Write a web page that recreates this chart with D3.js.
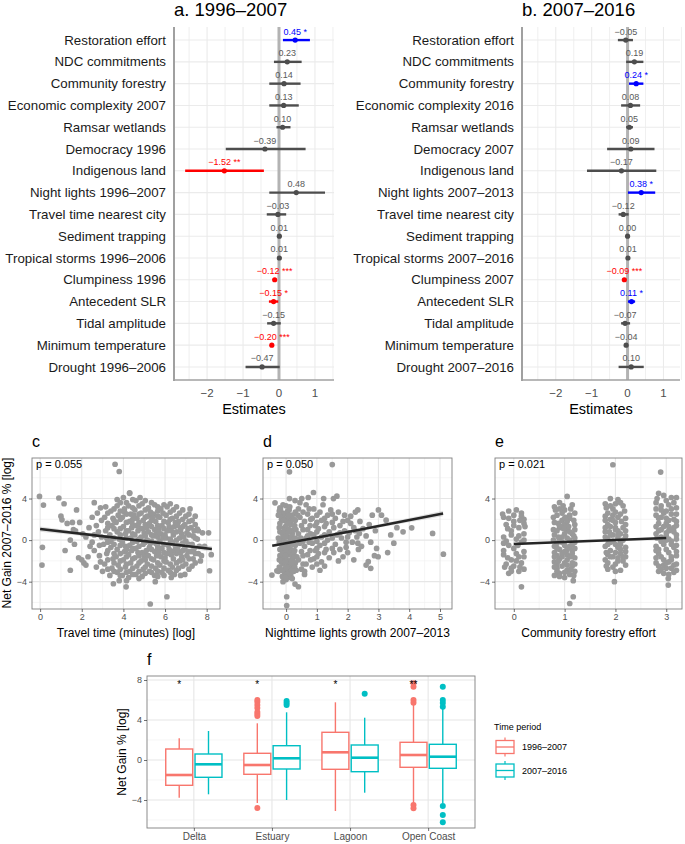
<!DOCTYPE html>
<html>
<head>
<meta charset="utf-8">
<script src="https://cdn.jsdelivr.net/npm/d3@7"></script>
<style>
body { margin: 0; background: #fff; }
svg { display: block; font-family: "Liberation Sans", Arial, sans-serif; }
</style>
</head>
<body>
<svg id="fig" width="685" height="844"></svg>
<script>
// ---- panel a / b : model estimates ----
var predictorsA = ["Restoration effort", "NDC commitments", "Community forestry", "Economic complexity 2007",
  "Ramsar wetlands", "Democracy 1996", "Indigenous land", "Night lights 1996\u20132007",
  "Travel time nearest city", "Sediment trapping", "Tropical storms 1996\u20132006", "Clumpiness 1996",
  "Antecedent SLR", "Tidal amplitude", "Minimum temperature", "Drought 1996\u20132006"];
var estA  = [0.45, 0.23, 0.14, 0.13, 0.10, -0.39, -1.52, 0.48, -0.03, 0.01, 0.01, -0.12, -0.15, -0.15, -0.20, -0.47];
var lowA  = [0.11, -0.14, -0.27, -0.27, -0.07, -1.48, -2.61, -0.27, -0.34, -0.02, -0.02, -0.16, -0.28, -0.33, -0.23, -0.93];
var highA = [0.86, 0.63, 0.60, 0.55, 0.32, 0.74, -0.42, 1.28, 0.20, 0.04, 0.04, -0.08, -0.02, 0.05, -0.17, 0.02];
var starsA = ["*", "", "", "", "", "", "**", "", "", "", "", "***", "*", "", "***", ""];

var predictorsB = ["Restoration effort", "NDC commitments", "Community forestry", "Economic complexity 2016",
  "Ramsar wetlands", "Democracy 2007", "Indigenous land", "Night lights 2007\u20132013",
  "Travel time nearest city", "Sediment trapping", "Tropical storms 2007\u20132016", "Clumpiness 2007",
  "Antecedent SLR", "Tidal amplitude", "Minimum temperature", "Drought 2007\u20132016"];
var estB  = [-0.05, 0.19, 0.24, 0.08, 0.05, 0.09, -0.17, 0.38, -0.12, 0.00, 0.01, -0.09, 0.11, -0.07, -0.04, 0.10];
var lowB  = [-0.27, -0.04, 0.04, -0.18, -0.04, -0.57, -1.13, 0.01, -0.25, -0.02, -0.02, -0.11, 0.01, -0.18, -0.07, -0.25];
var highB = [0.15, 0.44, 0.44, 0.35, 0.15, 0.75, 0.80, 0.77, 0.03, 0.02, 0.04, -0.07, 0.21, 0.07, -0.01, 0.45];
var starsB = ["", "", "*", "", "", "", "", "*", "", "", "", "***", "*", "", "", ""];

var estimateTicks = [-2, -1, 0, 1];
var estimateMinor = [-2.5, -1.5, -0.5, 0.5, 1.5];

// ---- panel c / d / e : scatter (x, net gain) ----
var travelTime = [
  [-0.03,4.2],[0.16,3.37],[0.11,-0.7],[0.09,-2.4],[3.6,7.3],[3.8,6.6],[5.29,-6.15],[6.09,-5.45],[4.13,-4.5],
  [3.52,-4.2],[5.53,-4.0],[8.09,0.7],[8.22,-1.4],[8.14,-2.95],[4.3,4.55],[7.55,1.05],[7.2,3.0],[6.3,-3.6],[7.9,-0.6],
  [0.9,4.05],[1.15,3.5],[1.0,2.3],[1.05,1.95],[1.45,0.0],[1.2,-1.0],[1.45,-2.9],[1.75,2.9],[1.6,1.0],[1.65,-0.4],
  [1.3,1.6],[1.55,1.7],[1.9,1.7],[2.0,-1.9],[2.1,-2.2],[2.3,-1.6],[1.85,-1.7],[2.2,0.3],[2.35,1.2],[2.5,2.2],
  [2.6,3.6],[2.4,-0.6],[2.6,-1.0],[2.7,-2.6],[2.9,-2.1],[2.8,0.8],[2.95,1.9],[2.2,-2.4],[1.7,0.9],[2.05,0.6],
  [2.5,-0.2],[2.75,2.6],[2.9,3.1],[3.0,-3.0],[2.85,-1.5],[2.7,1.4],[2.85,-0.5],[2.95,0.3],[2.6,0.5],
  [3.1,2.2],[3.15,0.9],[3.05,-0.4],[3.2,-1.3],[3.1,-2.3],[3.25,1.6],[3.2,0.2],[3.15,3.2],
  [3.25,2.6],[3.25,1.2],[3.25,-0.2],[3.25,-1.0],[3.25,-1.9],[3.25,-2.8],
  [3.4,2.8],[3.45,1.4],[3.35,0.5],[3.4,-0.7],[3.5,-1.8],[3.45,-2.7],[3.35,-3.4],[3.5,2.1],[3.4,-0.1],
  [3.55,3.0],[3.55,1.9],[3.55,1.1],[3.55,0.2],[3.55,-0.4],[3.55,-1.3],[3.55,-2.2],[3.55,-3.0],
  [3.7,3.3],[3.75,2.4],[3.65,1.7],[3.7,0.8],[3.8,0.1],[3.7,-0.9],[3.65,-1.6],[3.75,-2.4],[3.7,-3.1],[3.8,-3.9],[3.7,3.9],
  [3.85,3.6],[3.85,2.8],[3.85,2.0],[3.85,1.1],[3.85,0.5],[3.85,-0.5],[3.85,-1.3],[3.85,-2.0],[3.85,-2.8],[3.85,-3.4],
  [4.0,4.1],[4.05,3.0],[3.95,2.2],[4.0,1.3],[4.1,0.6],[3.95,-0.2],[4.05,-1.1],[4.0,-1.9],[4.1,-2.6],[3.95,-3.4],[4.05,2.7],[4.1,-0.6],
  [4.15,3.6],[4.15,2.5],[4.15,1.7],[4.15,0.9],[4.15,0.2],[4.15,-0.9],[4.15,-1.6],[4.15,-2.3],[4.15,-3.1],[4.15,-3.9],
  [4.3,4.5],[4.25,3.3],[4.35,2.5],[4.3,1.8],[4.25,0.9],[4.35,0.2],[4.3,-0.5],[4.25,-1.4],[4.35,-2.2],[4.3,-3.0],[4.25,-3.6],[4.4,1.2],[4.4,-1.0],
  [4.45,3.9],[4.45,3.1],[4.45,2.0],[4.45,1.5],[4.45,0.6],[4.45,-0.2],[4.45,-0.8],[4.45,-1.8],[4.45,-2.7],[4.45,-3.3],
  [4.6,3.8],[4.55,2.9],[4.65,2.1],[4.6,1.4],[4.55,0.5],[4.65,-0.1],[4.6,-0.8],[4.55,-1.7],[4.65,-2.5],[4.6,-3.3],[4.7,0.9],[4.7,-1.2],[4.5,2.4],
  [4.75,3.3],[4.75,2.5],[4.75,1.7],[4.75,1.2],[4.75,0.1],[4.75,-0.6],[4.75,-1.5],[4.75,-2.2],[4.75,-3.0],[4.75,-3.7],
  [4.9,3.5],[4.85,2.6],[4.95,1.9],[4.9,1.1],[4.85,0.3],[4.95,-0.4],[4.9,-1.2],[4.85,-2.0],[4.95,-2.8],[4.9,-3.5],[5.0,0.7],[5.0,-1.6],[4.8,4.1],
  [5.05,3.8],[5.05,2.9],[5.05,2.2],[5.05,1.5],[5.05,0.4],[5.05,-0.2],[5.05,-1.3],[5.05,-1.9],[5.05,-2.6],[5.05,-3.2],
  [5.2,3.1],[5.15,2.3],[5.25,1.6],[5.2,0.8],[5.15,0.0],[5.25,-0.7],[5.2,-1.5],[5.15,-2.3],[5.25,-3.0],[5.3,2.7],[5.3,-0.3],[5.1,1.2],[5.1,-1.0],
  [5.35,3.6],[5.35,2.4],[5.35,1.9],[5.35,1.3],[5.35,0.5],[5.35,-0.1],[5.35,-0.9],[5.35,-1.8],[5.35,-2.5],[5.35,-3.1],
  [5.5,3.4],[5.45,2.5],[5.55,1.8],[5.5,1.0],[5.45,0.4],[5.55,-0.3],[5.5,-1.1],[5.45,-1.9],[5.55,-2.7],[5.5,-3.4],[5.6,0.7],[5.6,-1.5],[5.4,2.1],
  [5.65,3.2],[5.65,2.8],[5.65,2.3],[5.65,1.4],[5.65,0.3],[5.65,-0.6],[5.65,-0.9],[5.65,-2.2],[5.65,-3.0],[5.65,-3.5],
  [5.8,3.0],[5.75,2.2],[5.85,1.4],[5.8,0.6],[5.75,-0.1],[5.85,-0.8],[5.8,-1.6],[5.75,-2.4],[5.85,-3.1],[5.9,2.6],[5.9,0.2],[5.7,-1.2],[5.7,1.0],
  [5.95,3.4],[5.95,1.8],[5.95,1.1],[5.95,0.4],[5.95,-0.4],[5.95,-1.2],[5.95,-2.0],[5.95,-2.7],[5.95,-3.4],
  [6.1,3.2],[6.05,2.4],[6.15,1.7],[6.1,0.9],[6.05,0.2],[6.15,-0.5],[6.1,-1.3],[6.05,-2.1],[6.15,-2.9],[6.2,1.3],[6.2,-0.9],[6.0,-1.7],[6.0,0.5],
  [6.25,2.7],[6.25,2.0],[6.25,1.1],[6.25,0.1],[6.25,-0.3],[6.25,-1.1],[6.25,-2.3],[6.25,-3.1],[6.25,3.5],
  [6.4,2.9],[6.35,2.1],[6.45,1.3],[6.4,0.5],[6.35,-0.2],[6.45,-1.0],[6.4,-1.8],[6.35,-2.6],[6.45,-3.3],[6.5,1.7],[6.5,-0.6],[6.3,0.9],[6.3,-1.4],
  [6.55,3.2],[6.55,2.3],[6.55,0.8],[6.55,0.0],[6.55,-1.3],[6.55,-2.2],[6.55,-2.9],
  [6.7,2.6],[6.65,1.8],[6.75,1.0],[6.7,0.2],[6.65,-0.5],[6.75,-1.2],[6.7,-2.0],[6.65,-2.7],[6.75,-3.4],[6.8,0.6],[6.8,-1.6],[6.6,1.4],[6.6,-0.9],
  [6.85,2.0],[6.85,1.3],[6.85,-0.3],[6.85,-1.0],[6.85,-1.9],[6.85,-2.5],[6.85,2.9],
  [7.0,2.3],[6.95,1.5],[7.05,0.7],[7.0,-0.1],[6.95,-0.8],[7.05,-1.5],[7.0,-2.3],[6.95,-3.3],[7.1,1.1],[7.1,-1.1],[6.9,0.3],
  [7.15,1.8],[7.15,0.5],[7.15,-0.4],[7.15,-1.8],[7.15,-2.8],[7.15,2.5],
  [7.3,1.9],[7.25,1.2],[7.35,0.4],[7.3,-0.4],[7.25,-1.1],[7.35,-1.8],[7.3,-2.5],[7.4,0.9],[7.4,-0.8],
  [7.45,1.5],[7.45,0.2],[7.45,-1.3],[7.45,-2.2],[7.45,2.3],
  [7.6,0.9],[7.55,0.1],[7.65,-0.6],[7.6,-1.3],[7.7,-2.0],[7.8,0.7],[7.75,-1.5]
];
var nightLights = [
  [-0.46,-3.37],[-0.3,-2.95],[-0.36,3.59],[0.11,6.57],[1.5,7.27],[0.02,-6.3],[0.02,-5.45],[0.29,-4.23],[0.4,-4.49],
  [5.11,-1.35],[4.76,0.64],[4.08,1.18],[3.25,1.92],[3.1,2.4],[2.94,-0.8],[2.99,-1.6],[2.87,-1.5],[2.67,-2.08],
  [2.75,-2.72],[2.6,-2.4],[2.38,0.64],[2.33,-0.3],[2.8,2.4],[2.33,2.9],[1.65,4.23],[1.54,4.0],[1.22,4.0],[0.89,4.58],
  [0.72,4.1],[0.51,4.0],[0.29,3.8],[0.11,4.0],
  [-0.2,3.1],[-0.1,2.6],[0.0,3.3],[0.1,2.9],[0.2,2.4],[-0.15,2.0],[0.05,1.8],[0.15,1.5],[-0.05,1.2],[0.25,1.0],
  [-0.2,0.8],[0.0,0.6],[0.1,0.3],[-0.1,0.1],[0.2,-0.1],[-0.15,-0.4],[0.05,-0.6],[0.15,-0.9],[-0.05,-1.1],[0.25,-1.3],
  [-0.2,-1.5],[0.0,-1.8],[0.1,-2.0],[-0.1,-2.3],[0.2,-2.5],[-0.05,-2.8],[0.05,-3.1],[0.15,-3.4],[0.0,-3.8],[-0.1,-4.0],[0.1,-3.6],
  [-0.1,3.4],[0.05,2.8],[0.15,2.2],[-0.2,1.6],[0.0,1.4],[0.2,0.6],[-0.1,0.4],[0.1,-0.3],[-0.2,-0.9],[0.05,-1.4],
  [0.2,-1.9],[-0.15,-2.1],[0.1,-2.7],[-0.05,-3.3],[0.25,-3.0],[0.3,2.7],[0.3,1.9],[0.3,-0.5],[0.3,-2.2],[-0.25,-3.0],
  [-0.25,0.2],[-0.25,2.4],[0.0,2.0],[0.1,1.0],[0.0,-0.2],[0.1,-1.2],[-0.1,-1.7],[0.2,-3.7],[-0.05,0.9],[0.15,0.0],
  [-0.22,2.8],[-0.12,2.2],[-0.02,2.5],[0.08,2.4],[0.18,1.9],[0.28,1.4],[-0.22,1.2],[-0.12,0.7],[-0.02,0.3],[0.08,0.8],
  [0.18,0.3],[0.28,0.2],[-0.22,-0.2],[-0.12,-0.7],[-0.02,-0.9],[0.08,-0.6],[0.18,-1.5],[0.28,-1.0],[-0.22,-1.9],[-0.12,-1.3],
  [-0.02,-1.5],[0.08,-2.3],[0.18,-2.2],[0.28,-1.6],[-0.22,-2.6],[-0.12,-2.9],[-0.02,-2.1],[0.08,-3.2],[0.18,-2.9],[0.28,-2.6],
  [-0.12,-3.5],[-0.02,-3.6],[0.08,1.6],[-0.08,1.9],[0.12,3.2],[-0.18,3.0],[0.0,-2.6],[0.22,-0.4],[-0.05,-0.4],[0.25,2.0],
  [0.32,1.0],[0.35,-1.6],[0.36,0.1],[0.33,-2.9],[0.38,2.4],
  [0.4,3.0],[0.45,2.2],[0.5,1.4],[0.4,0.6],[0.45,-0.3],[0.5,-1.1],[0.4,-1.9],[0.5,-2.8],[0.45,3.6],
  [0.55,2.7],[0.55,1.0],[0.55,-0.1],[0.55,-1.5],[0.55,-2.3],[0.6,-3.3],[0.48,0.2],[0.7,0.4],
  [0.65,3.4],[0.7,2.5],[0.6,1.8],[0.7,1.0],[0.65,0.2],[0.6,-0.6],[0.7,-1.4],[0.65,-2.3],[0.6,-3.0],
  [0.75,3.0],[0.78,1.4],[0.8,0.6],[0.75,-0.2],[0.78,-1.0],[0.8,-1.9],[0.8,2.0],
  [0.9,3.0],[0.85,2.1],[0.95,1.4],[0.9,0.5],[0.85,-0.3],[0.95,-1.0],[0.9,-1.8],[0.85,-2.6],
  [1.0,2.4],[1.0,1.7],[1.0,0.8],[1.0,-0.1],[1.0,-0.8],[1.0,-1.6],[1.0,-2.3],
  [1.1,2.7],[1.15,1.9],[1.05,1.1],[1.15,0.3],[1.1,-0.5],[1.05,-1.3],[1.15,-2.1],[1.1,-2.9],[1.2,3.4],
  [1.25,2.1],[1.25,1.3],[1.25,0.5],[1.25,-0.3],[1.25,-1.2],[1.25,-2.5],
  [1.35,2.4],[1.3,1.6],[1.4,0.8],[1.35,0.0],[1.3,-0.9],[1.4,-1.7],[1.45,2.9],
  [1.5,1.7],[1.5,0.2],[1.5,-0.8],[1.5,2.5],
  [1.6,2.1],[1.55,1.2],[1.65,0.5],[1.6,-0.4],[1.55,-1.2],[1.7,2.7],[1.7,-2.0],
  [1.75,1.4],[1.75,0.7],[1.75,-0.9],
  [1.85,1.8],[1.9,0.9],[1.8,0.2],[1.95,-0.7],[1.85,-1.6],[1.9,2.4],
  [2.0,1.9],[2.0,0.3],[1.95,-0.2],[2.25,0.9],[2.35,-0.9],
  [2.1,1.6],[2.05,0.7],[2.15,-0.2],[2.1,2.3],[2.2,1.2],[2.0,-1.2],
  [2.3,0.3],[2.4,1.8],[2.45,-0.6],[2.25,2.7],[2.5,1.1],[2.6,0.4],[2.7,1.5],[2.75,-0.2],[2.9,0.9],[3.0,2.9],
  [3.4,0.5],[3.6,1.2],[3.5,-0.3],[3.8,0.8],[3.3,-1.2],[2.2,-1.9]
];
var forestryEffort = [
  [-0.2,2.2],[-0.1,2.8],[0.05,2.9],[0.15,2.6],[0.2,2.0],[-0.15,1.5],[0.0,1.8],[0.1,1.2],[-0.05,0.9],[0.2,0.6],
  [-0.2,0.3],[0.05,0.1],[0.15,-0.2],[-0.1,-0.5],[0.0,-0.8],[0.2,-1.1],[-0.2,-1.4],[0.1,-1.6],[-0.05,-1.9],[0.15,-2.2],
  [0.0,-2.5],[-0.15,-2.3],[0.2,-2.8],[-0.1,-3.2],[0.1,-3.0],[-0.2,-1.0],[0.2,1.6],[-0.1,2.1],[0.1,0.4],[-0.15,-0.1],
  [0.05,-1.3],[0.15,2.3],[-0.05,-2.7],[0.15,-4.5],
  [-0.22,2.5],[0.0,2.4],[0.12,1.9],[-0.12,1.1],[0.22,1.3],[-0.05,0.5],[0.2,0.0],[-0.2,-0.3],[0.08,-0.5],[-0.12,-1.7],
  [0.2,-1.6],[0.05,-2.0],[-0.18,-2.6],[0.12,-2.6],[-0.05,-3.0],[0.0,1.4],
  [0.8,3.2],[0.9,3.6],[1.05,4.2],[1.15,3.4],[1.2,2.6],[0.85,2.4],[1.0,2.9],[1.1,2.1],[0.8,1.7],[0.95,1.9],
  [1.2,1.5],[0.9,1.2],[1.05,1.0],[1.15,0.6],[0.8,0.5],[0.95,0.3],[1.1,0.0],[1.2,-0.2],[0.85,-0.3],[1.0,-0.5],
  [0.9,-0.9],[1.15,-1.0],[0.8,-1.2],[1.05,-1.4],[1.2,-1.7],[0.9,-1.8],[0.8,-2.1],[1.0,-2.2],[1.15,-2.5],[0.85,-2.7],
  [1.05,-2.9],[0.9,-3.2],[0.8,-3.4],[1.1,-3.3],[1.0,-3.6],[1.2,-3.0],[1.17,-3.9],[1.17,-5.45],[1.1,-6.1],
  [0.85,0.9],[1.0,1.5],[1.1,2.4],[0.95,-1.6],[1.1,-0.6],[0.85,-2.3],[1.0,0.6],[1.2,1.0],[0.8,-0.6],[1.05,-1.9],
  [0.95,2.6],[1.15,-2.2],[0.9,0.0],[1.2,0.2],[0.9,3.0],[0.85,-1.5],[1.05,1.8],[1.15,-1.3],
  [0.82,2.9],[0.97,3.3],[1.12,3.0],[0.78,2.2],[1.02,2.2],[1.18,1.9],[0.88,1.6],[1.08,1.3],[0.78,1.0],[0.98,1.1],
  [1.18,0.4],[0.88,0.3],[1.05,0.2],[0.78,0.0],[0.95,-0.2],[1.15,-0.4],[0.85,-0.8],[1.05,-0.9],[1.2,-0.8],[0.8,-1.6],
  [0.95,-1.3],[1.12,-1.6],[0.88,-2.0],[1.05,-2.4],[1.2,-2.3],[0.8,-2.6],[0.95,-2.5],[1.12,-2.8],[0.85,-3.0],[1.0,-3.1],
  [1.18,-3.4],[0.9,-3.5],[1.0,2.1],[0.9,1.4],[1.1,0.8],[1.0,-1.1],
  [1.95,7.25],[1.9,4.0],[2.05,3.9],[1.8,3.5],[2.15,3.3],[1.95,3.0],[1.85,2.6],[2.1,2.5],[2.2,2.1],[1.8,1.9],
  [2.0,1.7],[1.9,1.3],[2.15,1.2],[2.05,0.9],[1.8,0.8],[1.95,0.5],[2.2,0.4],[1.85,0.1],[2.1,-0.1],[2.0,-0.4],
  [1.8,-0.6],[2.2,-0.7],[1.9,-1.0],[2.1,-1.3],[1.95,-1.6],[1.8,-1.9],[2.15,-2.0],[2.0,-2.3],[1.85,-2.8],[2.1,-2.9],
  [1.98,-4.0],[2.05,2.2],[1.9,-0.2],[2.2,1.5],[1.85,-1.4],[2.05,0.2],[1.95,2.4],[2.1,-0.9],[1.8,1.2],[2.0,3.5],
  [2.2,-1.6],[1.9,2.0],[2.05,-1.7],
  [1.82,3.1],[2.1,3.6],[1.9,3.3],[2.0,2.7],[2.18,2.8],[1.8,2.3],[1.95,1.9],[2.12,1.8],[1.85,1.5],[2.0,1.2],
  [2.2,0.9],[1.88,0.8],[2.05,0.5],[1.8,0.3],[2.15,0.0],[1.95,-0.1],[1.85,-0.4],[2.05,-0.7],[2.2,-1.1],[1.82,-1.2],
  [2.0,-1.2],[1.9,-1.6],[2.15,-1.6],[1.85,-2.2],[2.05,-2.0],[2.2,-2.4],[1.95,-2.6],[1.82,-2.5],[2.0,-3.0],[2.1,0.6],
  [1.9,0.5],[2.0,1.0],[2.1,-0.4],
  [2.89,6.55],[2.85,4.5],[2.95,4.3],[3.1,4.1],[3.2,4.1],[2.8,3.6],[3.05,3.4],[3.2,3.1],[2.9,2.9],[2.8,2.4],
  [3.1,2.5],[3.0,2.1],[3.2,1.8],[2.85,1.6],[3.05,1.3],[2.9,1.0],[3.15,0.8],[2.8,0.6],[3.0,0.4],[3.2,0.1],
  [2.9,-0.1],[3.1,-0.4],[2.8,-0.6],[3.0,-0.9],[3.2,-1.1],[2.85,-1.3],[3.1,-1.6],[2.95,-1.9],[2.8,-2.2],[3.15,-2.4],
  [3.0,-2.7],[2.85,-3.0],[3.2,-2.9],[3.05,-3.3],[3.04,-3.7],[3.04,-4.33],[2.95,2.6],[3.15,2.0],[2.9,0.3],[3.1,-1.9],
  [3.0,1.6],[2.85,-0.9],[3.2,-0.5],[3.05,0.9],[2.8,-1.7],[3.1,3.0],[2.95,-2.4],[3.15,1.2],
  [2.82,4.0],[3.0,3.8],[3.15,3.6],[2.9,3.3],[2.8,3.0],[3.0,2.8],[3.2,2.5],[2.85,2.1],[3.05,1.9],[2.8,1.3],
  [3.2,1.4],[2.95,1.3],[3.1,1.0],[2.85,0.9],[3.0,0.7],[3.2,0.5],[2.82,0.2],[3.05,0.1],[2.95,-0.4],[3.15,-0.7],
  [2.8,-1.0],[3.05,-1.2],[3.2,-1.5],[2.9,-1.6],[3.05,-2.1],[2.85,-2.5],[3.2,-2.3],[3.0,-2.2],[2.9,-2.8],[3.1,-2.7],
  [2.95,-3.2],[3.15,-3.1],[3.0,0.0],[2.9,2.2],[3.1,-0.1]
];
// fitted lines and their confidence band: [x, fit, low, high]
var fitC = [[0, 1.06, 0.80, 1.32], [4.1, 0.12, 0.02, 0.22], [8.25, -0.86, -1.12, -0.60]];
var fitD = [[-0.45, -0.55, -0.68, -0.42], [2.3, 0.95, 0.82, 1.08], [5.1, 2.56, 2.30, 2.82]];
var fitE = [[0, -0.38, -0.50, -0.26], [1.5, -0.09, -0.15, -0.03], [3, 0.20, 0.08, 0.32]];
var pValues = ["p = 0.055", "p = 0.050", "p = 0.021"];

// ---- panel f : boxplots ----
var coastTypes = ["Delta", "Estuary", "Lagoon", "Open Coast"];
var periods = ["1996\u20132007", "2007\u20132016"];
var periodColors = ["#F8766D", "#00BFC4"];
// [lower whisker, Q1, median, Q3, upper whisker]
var boxes1996 = [[-3.77, -2.53, -1.50, 1.10, 2.17], [-4.30, -1.43, -0.50, 0.67, 3.67], [-5.10, -0.93, 0.77, 2.77, 5.77], [-4.33, -0.73, 0.50, 1.77, 5.50]];
var boxes2007 = [[-3.43, -1.73, -0.43, 0.60, 2.90], [-4.00, -0.90, 0.17, 1.43, 4.77], [-3.27, -1.17, 0.23, 1.50, 4.23], [-4.33, -0.83, 0.33, 1.57, 5.17]];
var outliers1996 = [[], [6.0, 5.8, 5.5, 5.2, 4.8, 4.6, 4.4, -4.8], [], [7.67, 7.33, 6.0, 5.73, -4.5, -4.83]];
var outliers2007 = [[], [5.9, 5.7, 5.5], [6.63], [7.33, 6.0, 5.7, 5.33, -4.6, -5.5, -6.23]];
var boxStars = ["*", "*", "*", "**"];

// ---------------------------------------------------------------
var svg = d3.select("#fig");
var sigColor = function(est, star) {
  if (!star) return "#4d4d4d";
  return est > 0 ? "#0000ff" : "#ff0000";
};
var fmt = d3.format(".2f");

function drawForest(cfg) {
  var g = svg.append("g");
  var x = d3.scaleLinear().domain(cfg.domain).range([cfg.left, cfg.right]);
  var y = d3.scalePoint().domain(cfg.labels).range([cfg.top, cfg.bottom]).padding(0.6);

  // grid
  g.selectAll(".hg").data(cfg.labels).enter().append("line")
    .attr("x1", cfg.left).attr("x2", cfg.right)
    .attr("y1", function(d) { return y(d); }).attr("y2", function(d) { return y(d); })
    .attr("stroke", "#ebebeb").attr("stroke-width", 1.1);
  g.selectAll(".vm").data(estimateMinor).enter().append("line")
    .attr("x1", x).attr("x2", x).attr("y1", cfg.top).attr("y2", cfg.bottom)
    .attr("stroke", "#ebebeb").attr("stroke-width", 0.8);
  g.selectAll(".vg").data(estimateTicks).enter().append("line")
    .attr("x1", x).attr("x2", x).attr("y1", cfg.top).attr("y2", cfg.bottom)
    .attr("stroke", "#ebebeb").attr("stroke-width", 1.1);

  // zero line
  g.append("line").attr("x1", x(0)).attr("x2", x(0)).attr("y1", cfg.top).attr("y2", cfg.bottom)
    .attr("stroke", "#b3b3b3").attr("stroke-width", 3);

  // axis lines
  g.append("line").attr("x1", cfg.left).attr("x2", cfg.left).attr("y1", cfg.top).attr("y2", cfg.bottom + 1)
    .attr("stroke", "#a0a0a0").attr("stroke-width", 2);
  g.append("line").attr("x1", cfg.left).attr("x2", cfg.right).attr("y1", cfg.bottom).attr("y2", cfg.bottom)
    .attr("stroke", "#a0a0a0").attr("stroke-width", 1.5);

  var rows = cfg.labels.map(function(l, i) {
    return {label: l, est: cfg.est[i], lo: cfg.lo[i], hi: cfg.hi[i], star: cfg.stars[i]};
  });
  var r = g.selectAll(".row").data(rows).enter().append("g");
  r.append("line")
    .attr("x1", function(d) { return x(d.lo); }).attr("x2", function(d) { return x(d.hi); })
    .attr("y1", function(d) { return y(d.label); }).attr("y2", function(d) { return y(d.label); })
    .attr("stroke", function(d) { return sigColor(d.est, d.star); }).attr("stroke-width", 2.4);
  r.append("circle")
    .attr("cx", function(d) { return x(d.est); }).attr("cy", function(d) { return y(d.label); })
    .attr("r", 2.6).attr("fill", function(d) { return sigColor(d.est, d.star); });
  r.append("text")
    .attr("x", function(d) { return x(d.est); }).attr("y", function(d) { return y(d.label) - 5.5; })
    .attr("text-anchor", "middle").attr("font-size", "9px")
    .attr("fill", function(d) { return d.star ? sigColor(d.est, d.star) : "#595959"; })
    .text(function(d) { return fmt(d.est) + (d.star ? " " + d.star : ""); });

  // y labels
  g.selectAll(".yl").data(cfg.labels).enter().append("text")
    .attr("x", cfg.left - 8).attr("y", function(d) { return y(d) + 4.6; })
    .attr("text-anchor", "end").attr("font-size", "13.3px").attr("fill", "#1a1a1a")
    .text(function(d) { return d; });

  // x tick labels
  g.selectAll(".xl").data(estimateTicks).enter().append("text")
    .attr("x", x).attr("y", cfg.bottom + 17)
    .attr("text-anchor", "middle").attr("font-size", "11.5px").attr("fill", "#4d4d4d")
    .text(function(d) { return d3.format("d")(d); });
  g.append("text").attr("x", (cfg.left + cfg.right) / 2).attr("y", cfg.bottom + 34)
    .attr("text-anchor", "middle").attr("font-size", "14.5px").attr("fill", "#000")
    .text("Estimates");

  g.append("text").attr("x", cfg.left).attr("y", 16)
    .attr("font-size", "18.5px").attr("fill", "#000").text(cfg.title);
}

drawForest({labels: predictorsA, est: estA, lo: lowA, hi: highA, stars: starsA,
  domain: [-2.92, 1.53], left: 174, right: 334, top: 27, bottom: 380, title: "a. 1996\u20132007"});
drawForest({labels: predictorsB, est: estB, lo: lowB, hi: highB, stars: starsB,
  domain: [-2.94, 1.46], left: 522, right: 680, top: 27, bottom: 380, title: "b. 2007\u20132016"});

// ---- scatter panels ----
var gainTicks = [-4, 0, 4];
var gainMinor = [-6, -2, 2, 6];

function drawScatter(cfg) {
  var g = svg.append("g");
  var x = d3.scaleLinear().domain(cfg.xDomain).range([cfg.left, cfg.right]);
  var y = d3.scaleLinear().domain([-6.63, 7.9]).range([cfg.bottom, cfg.top]);

  g.append("rect").attr("x", cfg.left).attr("y", cfg.top)
    .attr("width", cfg.right - cfg.left).attr("height", cfg.bottom - cfg.top).attr("fill", "#fff");
  g.selectAll(".ym").data(gainMinor).enter().append("line")
    .attr("x1", cfg.left).attr("x2", cfg.right).attr("y1", y).attr("y2", y)
    .attr("stroke", "#f0f0f0").attr("stroke-width", 0.6);
  g.selectAll(".xm").data(cfg.xMinor).enter().append("line")
    .attr("x1", x).attr("x2", x).attr("y1", cfg.top).attr("y2", cfg.bottom)
    .attr("stroke", "#f0f0f0").attr("stroke-width", 0.6);
  g.selectAll(".yg").data(gainTicks).enter().append("line")
    .attr("x1", cfg.left).attr("x2", cfg.right).attr("y1", y).attr("y2", y)
    .attr("stroke", "#e6e6e6").attr("stroke-width", 1.1);
  g.selectAll(".xg").data(cfg.xTicks).enter().append("line")
    .attr("x1", x).attr("x2", x).attr("y1", cfg.top).attr("y2", cfg.bottom)
    .attr("stroke", "#e6e6e6").attr("stroke-width", 1.1);

  g.selectAll(".pt").data(cfg.points).enter().append("circle")
    .attr("cx", function(d) { return x(d[0]); }).attr("cy", function(d) { return y(d[1]); })
    .attr("r", 2.85).attr("fill", "#999999");

  var band = d3.area().x(function(d) { return x(d[0]); })
    .y0(function(d) { return y(d[2]); }).y1(function(d) { return y(d[3]); });
  g.append("path").attr("d", band(cfg.fit)).attr("fill", "#bdbdbd").attr("opacity", 0.45);
  var line = d3.line().x(function(d) { return x(d[0]); }).y(function(d) { return y(d[1]); });
  g.append("path").attr("d", line(cfg.fit)).attr("fill", "none")
    .attr("stroke", "#262626").attr("stroke-width", 2.6);

  g.append("rect").attr("x", cfg.left).attr("y", cfg.top)
    .attr("width", cfg.right - cfg.left).attr("height", cfg.bottom - cfg.top)
    .attr("fill", "none").attr("stroke", "#7f7f7f").attr("stroke-width", 0.9);

  // axes
  var xa = g.append("g").attr("transform", "translate(0," + cfg.bottom + ")")
    .call(d3.axisBottom(x).tickValues(cfg.xTicks).tickSize(3).tickPadding(2).tickFormat(d3.format("d")));
  var ya = g.append("g").attr("transform", "translate(" + cfg.left + ",0)")
    .call(d3.axisLeft(y).tickValues(gainTicks).tickSize(3).tickPadding(2).tickFormat(d3.format("d")));
  [xa, ya].forEach(function(a) {
    a.select(".domain").remove();
    a.selectAll("line").attr("stroke", "#333").attr("stroke-width", 0.7);
    a.selectAll("text").attr("fill", "#4d4d4d").attr("font-size", "9px")
      .attr("font-family", "Liberation Sans, Arial, sans-serif");
  });

  g.append("text").attr("x", (cfg.left + cfg.right) / 2).attr("y", cfg.bottom + 28)
    .attr("text-anchor", "middle").attr("font-size", "12px").attr("fill", "#000").text(cfg.xTitle);
  g.append("text").attr("x", cfg.left + 4).attr("y", cfg.top + 10)
    .attr("font-size", "11px").attr("fill", "#000").text(cfg.pText);
  g.append("text").attr("x", cfg.left).attr("y", cfg.top - 11)
    .attr("font-size", "16px").attr("fill", "#000").text(cfg.letter);
}

drawScatter({points: travelTime, fit: fitC, xDomain: [-0.39, 8.64], xTicks: [0, 2, 4, 6, 8], xMinor: [1, 3, 5, 7],
  left: 32, right: 220, top: 458, bottom: 609, xTitle: "Travel time (minutes) [log]", pText: pValues[0], letter: "c"});
drawScatter({points: nightLights, fit: fitD, xDomain: [-0.75, 5.39], xTicks: [0, 1, 2, 3, 4, 5], xMinor: [-0.5, 0.5, 1.5, 2.5, 3.5, 4.5],
  left: 263, right: 452, top: 458, bottom: 609, xTitle: "Nighttime lights growth 2007\u20132013", pText: pValues[1], letter: "d"});
drawScatter({points: forestryEffort, fit: fitE, xDomain: [-0.37, 3.31], xTicks: [0, 1, 2, 3], xMinor: [0.5, 1.5, 2.5],
  left: 495, right: 682, top: 458, bottom: 609, xTitle: "Community forestry effort", pText: pValues[2], letter: "e"});

svg.append("text").attr("transform", "translate(11,533) rotate(-90)")
  .attr("text-anchor", "middle").attr("font-size", "12px").attr("fill", "#000")
  .text("Net Gain 2007\u20132016 % [log]");

// ---- boxplot panel f ----
(function() {
  var L = 147, R = 475, T = 676, B = 828;
  var g = svg.append("g");
  var x = d3.scalePoint().domain(coastTypes).range([L, R]).padding(0.6);
  var step = x.step();
  var dodge = d3.scaleBand().domain(periods).range([-0.375 * step, 0.375 * step]);
  var y = d3.scaleLinear().domain([-6.8, 8.4]).range([B, T]);
  var yTicks = [-4, 0, 4, 8], yMinor = [-6, -2, 2, 6];

  g.selectAll(".ym").data(yMinor).enter().append("line")
    .attr("x1", L).attr("x2", R).attr("y1", y).attr("y2", y).attr("stroke", "#f0f0f0").attr("stroke-width", 0.6);
  g.selectAll(".yg").data(yTicks).enter().append("line")
    .attr("x1", L).attr("x2", R).attr("y1", y).attr("y2", y).attr("stroke", "#e6e6e6").attr("stroke-width", 1.1);
  g.selectAll(".xg").data(coastTypes).enter().append("line")
    .attr("x1", x).attr("x2", x).attr("y1", T).attr("y2", B).attr("stroke", "#e6e6e6").attr("stroke-width", 1.1);

  var bw = dodge.bandwidth() * 0.92;
  var sets = [boxes1996, boxes2007];
  var outs = [outliers1996, outliers2007];
  periods.forEach(function(p, pi) {
    var col = periodColors[pi];
    coastTypes.forEach(function(c, ci) {
      var s = sets[pi][ci];
      var cx = x(c) + dodge(p) + dodge.bandwidth() / 2;
      g.append("line").attr("x1", cx).attr("x2", cx).attr("y1", y(s[4])).attr("y2", y(s[3]))
        .attr("stroke", col).attr("stroke-width", 1.4);
      g.append("line").attr("x1", cx).attr("x2", cx).attr("y1", y(s[1])).attr("y2", y(s[0]))
        .attr("stroke", col).attr("stroke-width", 1.4);
      g.append("rect").attr("x", cx - bw / 2).attr("y", y(s[3])).attr("width", bw).attr("height", y(s[1]) - y(s[3]))
        .attr("fill", "#fff").attr("stroke", col).attr("stroke-width", 1.4);
      g.append("line").attr("x1", cx - bw / 2).attr("x2", cx + bw / 2).attr("y1", y(s[2])).attr("y2", y(s[2]))
        .attr("stroke", col).attr("stroke-width", 2.6);
      g.selectAll(null).data(outs[pi][ci]).enter().append("circle")
        .attr("cx", cx).attr("cy", y).attr("r", 3).attr("fill", col);
      if (pi === 0) {
        g.append("text").attr("x", cx).attr("y", y(8) + 8).attr("text-anchor", "middle")
          .attr("font-size", "10px").attr("fill", "#000").text(boxStars[ci]);
      }
    });
  });

  g.append("rect").attr("x", L).attr("y", T).attr("width", R - L).attr("height", B - T)
    .attr("fill", "none").attr("stroke", "#7f7f7f").attr("stroke-width", 0.9);

  var xa = g.append("g").attr("transform", "translate(0," + B + ")")
    .call(d3.axisBottom(x).tickSize(3).tickPadding(2));
  var ya = g.append("g").attr("transform", "translate(" + L + ",0)")
    .call(d3.axisLeft(y).tickValues(yTicks).tickSize(3).tickPadding(2).tickFormat(d3.format("d")));
  [xa, ya].forEach(function(a) {
    a.select(".domain").remove();
    a.selectAll("line").attr("stroke", "#333").attr("stroke-width", 0.7);
    a.selectAll("text").attr("fill", "#4d4d4d").attr("font-size", "9px")
      .attr("font-family", "Liberation Sans, Arial, sans-serif");
  });
  xa.selectAll("text").attr("font-size", "10px");

  svg.append("text").attr("transform", "translate(126," + ((T + B) / 2) + ") rotate(-90)")
    .attr("text-anchor", "middle").attr("font-size", "12px").attr("fill", "#000").text("Net Gain % [log]");
  svg.append("text").attr("x", L).attr("y", 665).attr("font-size", "16px").attr("fill", "#000").text("f");

  // legend
  var lg = svg.append("g").attr("transform", "translate(494,0)");
  lg.append("text").attr("x", 0).attr("y", 730).attr("font-size", "9px").attr("fill", "#000").text("Time period");
  periods.forEach(function(p, i) {
    var cy = 747 + i * 23.5;
    var col = periodColors[i];
    lg.append("line").attr("x1", 11).attr("x2", 11).attr("y1", cy - 9.5).attr("y2", cy + 9.5)
      .attr("stroke", col).attr("stroke-width", 1.2);
    lg.append("rect").attr("x", 2).attr("y", cy - 6.5).attr("width", 18).attr("height", 13)
      .attr("fill", "#fff").attr("stroke", col).attr("stroke-width", 1.3);
    lg.append("line").attr("x1", 2).attr("x2", 20).attr("y1", cy).attr("y2", cy)
      .attr("stroke", col).attr("stroke-width", 1.3);
    lg.append("text").attr("x", 28).attr("y", cy + 3).attr("font-size", "9px").attr("fill", "#000").text(p);
  });
})();
</script>
</body>
</html>
